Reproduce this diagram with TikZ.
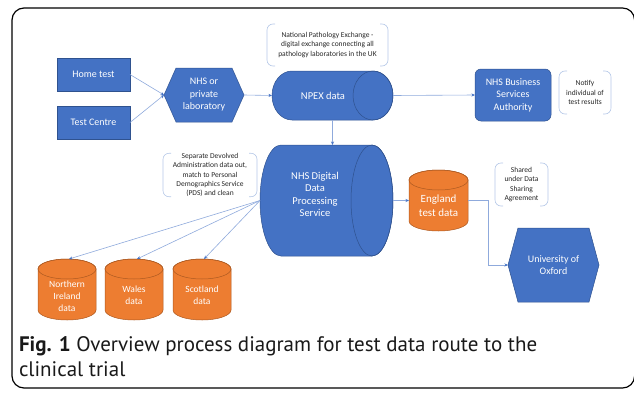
\documentclass[tikz,border=0pt]{standalone}
\usepackage{fontspec}
\setmainfont{Carlito}
\newfontfamily\capfont{PT Sans}
\usetikzlibrary{arrows.meta,backgrounds}
\definecolor{nblue}{HTML}{4472C4}
\definecolor{nblueline}{HTML}{2F528F}
\definecolor{norange}{HTML}{ED7D31}
\definecolor{norangeline}{HTML}{AE5A21}
\definecolor{connc}{HTML}{8FAADC}
\definecolor{brkc}{HTML}{B4C7E7}
\begin{document}
\begin{tikzpicture}[x=1pt,y=1pt,
  base/.style={rectangle, inner sep=0pt, outer sep=0pt},
  bluebox/.style={base, fill=nblue, draw=nblueline, line width=0.5pt},
  holder/.style={base},
  wtext/.style={base, text=white, align=center, font=\fontsize{10}{12.5}\selectfont},
  otext/.style={base, text=white, align=center, font=\fontsize{9.5}{12}\selectfont},
  note/.style={base, align=center, text=black!85, font=\fontsize{7.5}{9.3}\selectfont},
  bluefill/.style={fill=nblue, draw=nblueline, line width=0.5pt},
  orangefill/.style={fill=norange, draw=norangeline, line width=0.5pt},
  brk/.style={draw=brkc, line width=0.6pt, rounded corners=6pt},
  conn/.style={draw=connc, line width=0.6pt, -{Stealth[length=3.5pt,width=3pt,color=nblue]}},
]
\useasboundingbox (0,0) rectangle (634,392);

% ---------- nodes ----------
\node[bluebox, wtext, minimum width=73, minimum height=33] (home) at (93.5,317.5) {Home test};
\node[bluebox, wtext, minimum width=73, minimum height=33] (centre) at (93.5,269.5) {Test Centre};
\node[holder, minimum width=80, minimum height=54] (lab) at (204,297) {};
\node[wtext] (labt) at (lab.center) {NHS or\\private\\laboratory};
\node[holder, minimum width=121, minimum height=49] (npex) at (332.5,296.5) {};
\node[wtext, font=\fontsize{10.5}{12.5}\selectfont] (npext) at (323,296.5) {NPEX data};
\node[base, fill=nblue, draw=nblueline, line width=0.5pt, rounded corners=6pt, wtext, minimum width=76, minimum height=52] (bsa) at (513,297) {NHS Business\\Services\\Authority};
\node[holder, minimum width=133, minimum height=111] (digital) at (326.5,191.5) {};
\node[wtext, font=\fontsize{10.5}{12.5}\selectfont] (digitalt) at (315,197.5) {NHS Digital\\Data\\Processing\\Service};
\node[holder, minimum width=59, minimum height=61] (england) at (438.5,191.5) {};
\node[wtext, font=\fontsize{11}{14}\selectfont] (englandt) at (438.5,186) {England\\test data};
\node[holder, minimum width=91, minimum height=74] (oxford) at (553.5,127) {};
\node[wtext] (oxfordt) at (oxford.center) {University of\\Oxford};
\node[holder, minimum width=58, minimum height=61] (ni) at (67,102.5) {};
\node[otext] (nit) at (67,96) {Northern\\Ireland\\data};
\node[holder, minimum width=58, minimum height=61] (wales) at (134,102.5) {};
\node[otext] (walest) at (134,96.5) {Wales\\data};
\node[holder, minimum width=58, minimum height=61] (scot) at (202,102.5) {};
\node[otext] (scott) at (202,96.5) {Scotland\\data};

% notes
\node[note, minimum width=121, minimum height=42] (npexnote) at (327.5,347) {National Pathology Exchange -\\digital exchange connecting all\\pathology laboratories in the UK};
\node[note, minimum width=52, minimum height=43] (notify) at (585,299.5) {Notify\\individual of\\test results};
\node[note, minimum width=94, minimum height=36] (pdsnote) at (210,217) {Separate Devolved\\Administration data out,\\match to Personal\\Demographics Service\\(PDS) and clean};
\node[note, minimum width=53, minimum height=43] (shared) at (521.5,207.5) {Shared\\under Data\\Sharing\\Agreement};

% caption
\node[base, anchor=north west, align=left, text=black!90, font=\capfont\fontsize{21}{25}\selectfont] (caption) at (19,55) {\textbf{Fig. 1} Overview process diagram for test data route to the\\clinical trial};

% ---------- shapes on background ----------
\begin{scope}[on background layer]
  \draw[line width=1.2pt, rounded corners=12pt] (12,4) rectangle (634.6,384);
  % lab hexagon
  \path[bluefill] (lab.west) -- ([xshift=12pt]lab.north west) -- ([xshift=-12pt]lab.north east) -- (lab.east) -- ([xshift=-12pt]lab.south east) -- ([xshift=12pt]lab.south west) -- cycle;
  % oxford hexagon
  \path[bluefill] (oxford.west) -- ([xshift=10pt]oxford.north west) -- ([xshift=-10pt]oxford.north east) -- (oxford.east) -- ([xshift=-10pt]oxford.south east) -- ([xshift=10pt]oxford.south west) -- cycle;
  % npex cylinder
  \path[bluefill] ([xshift=-20pt]npex.north east) -- ([xshift=20pt]npex.north west)
     arc[start angle=90, end angle=270, x radius=20pt, y radius=24.5pt]
     -- ([xshift=-20pt]npex.south east)
     arc[start angle=-90, end angle=90, x radius=20pt, y radius=24.5pt] -- cycle;
  \draw[nblueline, line width=0.5pt] ([xshift=-20pt]npex.east) ellipse[x radius=20pt, y radius=24.5pt];
  % digital cylinder
  \path[bluefill] ([xshift=-21pt]digital.north east) -- ([xshift=21pt]digital.north west)
     arc[start angle=90, end angle=270, x radius=21pt, y radius=55.5pt]
     -- ([xshift=-21pt]digital.south east)
     arc[start angle=-90, end angle=90, x radius=21pt, y radius=55.5pt] -- cycle;
  \draw[nblueline, line width=0.5pt] ([xshift=-21pt]digital.east) ellipse[x radius=21pt, y radius=55.5pt];
  % vertical orange cylinders
  \foreach \n/\r in {ni/29, wales/29, scot/29, england/29.5}{
    \path[orangefill] ([yshift=-10pt]\n.north west) -- ([yshift=10pt]\n.south west)
       arc[start angle=180, end angle=360, x radius=\r pt, y radius=10pt]
       -- ([yshift=-10pt]\n.north east)
       arc[start angle=0, end angle=180, x radius=\r pt, y radius=10pt] -- cycle;
    \draw[norangeline, line width=0.5pt] ([yshift=-10pt]\n.north) ellipse[x radius=\r pt, y radius=10pt];
  }
  % note brackets
  \foreach \n in {npexnote, notify, pdsnote, shared}{
    \draw[brk] ([xshift=8pt]\n.north west) -- (\n.north west) -- (\n.south west) -- ([xshift=8pt]\n.south west);
    \draw[brk] ([xshift=-8pt]\n.north east) -- (\n.north east) -- (\n.south east) -- ([xshift=-8pt]\n.south east);
  }
\end{scope}

% ---------- connectors ----------
\draw[conn] (home.east) -- (lab.west);
\draw[conn] (centre.east) -- (lab.west);
\draw[conn] (lab.east) -- (npex.west);
\draw[conn] (npex.east) -- (bsa.west);
\draw[conn] (npex.south) -- (npex.south |- digital.north);
\draw[conn] (digital.east) -- (england.west);
\draw[conn] (england.east) -- ++(20,0) |- (oxford.west);
\draw[conn] (digital.west) -- ([xshift=2pt]ni.north);
\draw[conn] (digital.west) -- ([xshift=3pt]wales.north);
\draw[conn] (digital.west) -- ([xshift=2pt]scot.north);
\end{tikzpicture}
\end{document}
